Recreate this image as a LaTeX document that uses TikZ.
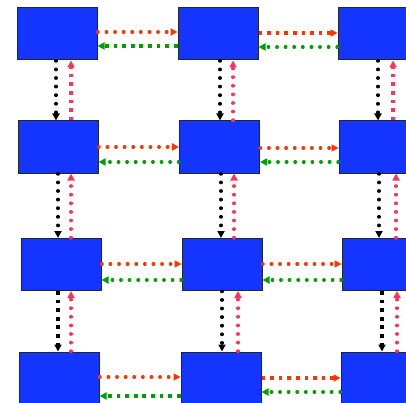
\documentclass[tikz,border=0pt]{standalone}
\usetikzlibrary{arrows.meta}
\definecolor{BoxBlue}{RGB}{20,52,255}
\definecolor{LinkRed}{RGB}{255,51,0}
\definecolor{LinkPink}{RGB}{255,51,85}
\definecolor{LinkGreen}{RGB}{0,160,0}

\begin{document}
\begin{tikzpicture}[
    x=1pt, y=1pt,
    >={Triangle[length=7pt,width=7pt]},
    box/.style={draw=black!85, line width=1pt, fill=BoxBlue,
        minimum width=80pt, minimum height=52pt, inner sep=0pt},
    round dots/.style={line width=3.2pt, line cap=round, dash pattern=on 0.6pt off 8pt},
    square dots/.style={line width=3.7pt, line cap=butt, dash pattern=on 3.7pt off 4.9pt}
]

% Frame
\useasboundingbox (0,0) rectangle (406,402);

% Boxes
\node[box] (b11) at (57,368) {};
\node[box] (b12) at (218,368) {};
\node[box] (b13) at (378,368) {};
\node[box] (b21) at (58,255) {};
\node[box] (b22) at (219.5,255) {};
\node[box] (b23) at (379,255) {};
\node[box] (b31) at (61,137.5) {};
\node[box] (b32) at (222,137.5) {};
\node[box] (b33) at (382,137.5) {};
\node[box] (b41) at (59,24) {};
\node[box] (b42) at (221,24) {};
\node[box] (b43) at (381,24) {};

% Row 1
\draw[->, LinkRed, round dots] ([yshift=2pt]b11.east) -- ([yshift=2pt]b12.west);
\draw[->, LinkGreen, square dots] ([yshift=-12pt]b12.west) -- ([yshift=-12pt]b11.east);
\draw[->, LinkRed, square dots] ([yshift=1pt]b12.east) -- ([yshift=1pt]b13.west);
\draw[->, LinkGreen, round dots] ([yshift=-13pt]b13.west) -- ([yshift=-13pt]b12.east);

% Row 1 to row 2
\draw[->, black, round dots] ([xshift=-1pt]b11.south) -- ([xshift=-1pt]b11.south |- b21.north);
\draw[->, LinkPink, square dots] ([xshift=14pt]b11.south |- b21.north) -- ([xshift=14pt]b11.south);
\draw[->, black, round dots] ([xshift=2pt]b12.south) -- ([xshift=2pt]b12.south |- b22.north);
\draw[->, LinkPink, round dots] ([xshift=15pt]b12.south |- b22.north) -- ([xshift=15pt]b12.south);
\draw[->, black, round dots] (b13.south) -- (b13.south |- b23.north);
\draw[->, LinkPink, square dots] ([xshift=15pt]b13.south |- b23.north) -- ([xshift=15pt]b13.south);

% Row 2
\draw[->, LinkRed, round dots] (b21.east) -- (b22.west);
\draw[->, LinkGreen, round dots] ([yshift=-15pt]b22.west) -- ([yshift=-15pt]b21.east);
\draw[->, LinkRed, round dots] ([yshift=-1pt]b22.east) -- ([yshift=-1pt]b23.west);
\draw[->, LinkGreen, round dots] ([yshift=-15pt]b23.west) -- ([yshift=-15pt]b22.east);

% Row 2 to row 3
\draw[->, black, round dots] (b21.south) -- (b21.south |- b31.north);
\draw[->, LinkPink, round dots] ([xshift=13pt]b21.south |- b31.north) -- ([xshift=13pt]b21.south);
\draw[->, black, round dots] ([xshift=1.5pt]b22.south) -- ([xshift=1.5pt]b22.south |- b32.north);
\draw[->, LinkPink, round dots] ([xshift=14.5pt]b22.south |- b32.north) -- ([xshift=14.5pt]b22.south);
\draw[->, black, round dots] (b23.south) -- (b23.south |- b33.north);
\draw[->, LinkPink, round dots] ([xshift=17pt]b23.south |- b33.north) -- ([xshift=17pt]b23.south);

% Row 3
\draw[->, LinkRed, round dots] ([yshift=0.5pt]b31.east) -- ([yshift=0.5pt]b32.west);
\draw[->, LinkGreen, round dots] ([yshift=-15.5pt]b32.west) -- ([yshift=-15.5pt]b31.east);
\draw[->, LinkRed, round dots] ([yshift=0.5pt]b32.east) -- ([yshift=0.5pt]b33.west);
\draw[->, LinkGreen, round dots] ([yshift=-15.5pt]b33.west) -- ([yshift=-15.5pt]b32.east);

% Row 3 to row 4
\draw[->, black, square dots] ([xshift=-3pt]b31.south) -- ([xshift=-3pt]b31.south |- b41.north);
\draw[->, LinkPink, round dots] ([xshift=10pt]b31.south |- b41.north) -- ([xshift=10pt]b31.south);
\draw[->, black, round dots] (b32.south) -- (b32.south |- b42.north);
\draw[->, LinkPink, round dots] ([xshift=16pt]b32.south |- b42.north) -- ([xshift=16pt]b32.south);
\draw[->, black, square dots] (b33.south) -- (b33.south |- b43.north);
\draw[->, LinkPink, round dots] ([xshift=15pt]b33.south |- b43.north) -- ([xshift=15pt]b33.south);

% Row 4
\draw[->, LinkRed, round dots] ([yshift=1pt]b41.east) -- ([yshift=1pt]b42.west);
\draw[->, LinkGreen, square dots] ([yshift=-18pt]b42.west) -- ([yshift=-18pt]b41.east);
\draw[->, LinkRed, square dots] (b42.east) -- (b43.west);
\draw[->, LinkGreen, round dots] ([yshift=-14pt]b43.west) -- ([yshift=-14pt]b42.east);

\end{tikzpicture}
\end{document}
